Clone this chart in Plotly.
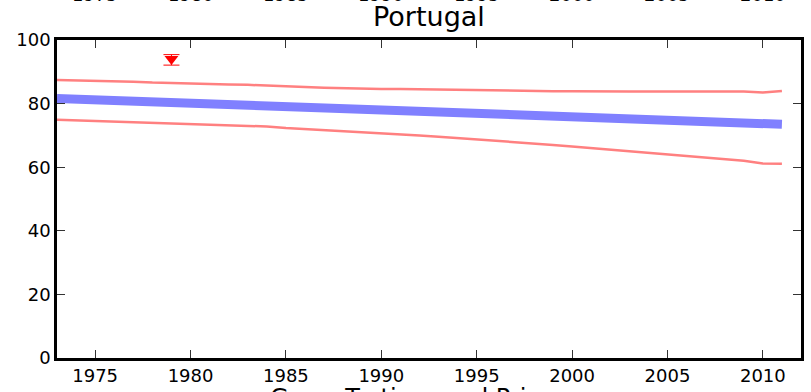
import plotly.graph_objects as go

years = list(range(1973, 2012))
# central trend (thick blue)
trend = [81.6, 81.4, 81.2, 81.0, 80.8, 80.5, 80.3, 80.1, 79.9, 79.7, 79.5, 79.3, 79.1, 78.8,
         78.6, 78.4, 78.2, 78.0, 77.8, 77.6, 77.4, 77.1, 76.9, 76.7, 76.5, 76.3, 76.1, 75.9,
         75.7, 75.4, 75.2, 75.0, 74.8, 74.6, 74.4, 74.2, 74.0, 73.7, 73.5]
upper = [87.4, 87.3, 87.1, 87.0, 86.9, 86.6, 86.4, 86.3, 86.1, 86.0, 85.9, 85.6, 85.3, 85.2,
         85.0, 84.8, 84.8, 84.6, 84.6, 84.5, 84.3, 84.3, 84.2, 84.2, 84.0, 84.0, 83.9, 83.9,
         83.8, 83.8, 83.8, 83.8, 83.8, 83.7, 83.8, 83.7, 83.8, 83.5, 84.0]
lower = [74.9, 74.7, 74.6, 74.4, 74.3, 74.1, 73.9, 73.7, 73.5, 73.3, 73.1, 72.8, 72.3, 72.0,
         71.6, 71.2, 71.0, 70.7, 70.4, 70.0, 69.6, 69.2, 68.8, 68.4, 68.0, 67.5, 67.0, 66.5,
         66.0, 65.5, 65.1, 64.7, 64.2, 63.6, 63.1, 62.5, 62.0, 61.2, 61.1]
obs_year = [1979]
obs_value = [94.0]
obs_err_plus = [1.4]
obs_err_minus = [1.9]

tick_years = [1975, 1980, 1985, 1990, 1995, 2000, 2005, 2010]
y_ticks = [0, 20, 40, 60, 80, 100]

fig = go.Figure()
fig.add_trace(go.Scatter(x=years, y=upper, mode="lines",
                         line=dict(color="#ff8080", width=2.5), showlegend=False))
fig.add_trace(go.Scatter(x=years, y=lower, mode="lines",
                         line=dict(color="#ff8080", width=2.5), showlegend=False))
fig.add_trace(go.Scatter(x=years, y=trend, mode="lines",
                         line=dict(color="#8080ff", width=9), showlegend=False))
fig.add_trace(go.Scatter(x=obs_year, y=obs_value, mode="markers",
                         marker=dict(symbol="triangle-down", size=12, color="red"),
                         error_y=dict(type="data", symmetric=False, array=obs_err_plus,
                                      arrayminus=obs_err_minus, color="red",
                                      thickness=1, width=8),
                         showlegend=False))

axis_common = dict(showline=True, linewidth=2.5, linecolor="black", mirror="ticks",
                   ticks="inside", ticklen=8, tickwidth=1.2, tickcolor="#333",
                   showgrid=False, zeroline=False,
                   tickfont=dict(family="DejaVu Sans", size=18, color="black"))

fig.update_xaxes(range=[1973, 2012], tickvals=tick_years, **axis_common)
fig.update_yaxes(range=[0, 100], tickvals=y_ticks, **axis_common)

annotations = [dict(text="Portugal", x=0.5, y=1.0, xref="paper", yref="paper",
                    xanchor="center", yanchor="bottom", yshift=6, showarrow=False,
                    font=dict(family="DejaVu Sans", size=27, color="black")),
               dict(text="Gross Tertiary and Primary", x=0.5, y=0, xref="paper", yref="paper",
                    xanchor="center", yanchor="top", yshift=-24, showarrow=False,
                    font=dict(family="DejaVu Sans", size=24, color="black"))]
for ty in tick_years:
    annotations.append(dict(text=str(ty), x=ty, y=1.0, xref="x", yref="paper",
                            xanchor="center", yanchor="bottom", yshift=33, showarrow=False,
                            font=dict(family="DejaVu Sans", size=18, color="black")))

fig.update_layout(width=811, height=392,
                  margin=dict(l=57, r=10, t=40, b=34, autoexpand=False),
                  paper_bgcolor="white", plot_bgcolor="white",
                  annotations=annotations)

fig.write_html("out.html", config={"displayModeBar": False},
               post_script="document.body.style.margin='0';document.body.style.overflow='hidden';")
